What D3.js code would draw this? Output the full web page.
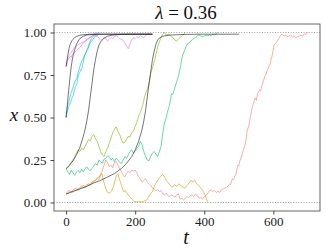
<!DOCTYPE html>
<html>
<head>
<meta charset="utf-8"/>
<script src="https://cdn.jsdelivr.net/npm/d3@7"></script>
<style>
body{margin:0;background:#fff;}
svg text{font-family:"Liberation Serif","DejaVu Serif",serif;}
</style>
</head>
<body>
<script>
var width=325, height=250;
var margin={left:54,right:5,top:24,bottom:39};

// axis ticks
var xTicks=[0,200,400,600];
var yTicks=[0,0.25,0.5,0.75,1];
var refLines=[0,1];

// simulated paths, [t, x]
var seriesColors=["#F8766D","#CD9600","#7CAE00","#00BE67","#00BFC4","#00A9FF","#C77CFF","#FF61CC"];

var red=[[0,.05],[5,.065],[10,.07],[15,.06],[20,.075],[25,.08],[30,.085],[35,.078],[40,.09],[45,.095],[50,.1],[55,.092],[60,.105],[65,.11],[70,.1],[75,.115],[80,.12],[85,.13],[90,.14],[95,.135],[100,.16],[105,.19],[110,.22],[115,.25],[120,.235],[125,.21],[130,.22],[135,.205],[140,.235],[145,.24],[150,.22],[155,.2],[160,.18],[165,.165],[170,.15],[175,.17],[180,.185],[185,.175],[190,.19],[195,.185],[200,.19],[205,.175],[210,.15],[215,.14],[220,.12],[225,.13],[230,.14],[235,.12],[240,.11],[245,.1],[250,.085],[255,.08],[260,.07],[265,.075],[270,.065],[275,.07],[280,.05],[285,.045],[290,.055],[295,.04],[300,.035],[305,.045],[310,.04],[315,.03],[320,.045],[325,.05],[330,.02],[335,.025],[340,.015],[345,.025],[350,.035],[355,.03],[360,.04],[365,.045],[370,.035],[375,.05],[380,.04],[385,.025],[390,.03],[395,.02],[400,.035],[405,.04],[410,.055],[415,.07],[420,.075],[425,.065],[430,.07],[435,.06],[440,.065],[445,.06],[450,.075],[455,.08],[460,.085],[465,.09],[470,.1],[473,.11],[476,.105],[479,.125],[482,.14],[485,.135],[488,.155],[491,.16],[494,.19],[497,.22],[500,.215],[503,.245],[506,.26],[509,.28],[512,.3],[515,.32],[518,.34],[521,.37],[524,.42],[527,.44],[530,.46],[533,.5],[536,.53],[539,.56],[542,.58],[545,.6],[548,.615],[551,.6],[554,.64],[557,.65],[560,.66],[563,.655],[566,.68],[569,.7],[572,.72],[575,.74],[578,.75],[581,.77],[584,.785],[587,.8],[590,.81],[593,.84],[596,.86],[599,.89],[602,.925],[605,.935],[608,.94],[611,.95],[614,.955],[617,.97],[620,.98],[624,.99],[628,.985],[632,.98],[636,.985],[640,.975],[645,.98],[650,.985],[655,.975],[660,.98],[665,.97],[670,.975],[675,.98],[680,.985],[685,.98],[690,.99],[695,.99],[700,1]];

var gold=[[0,.05],[6,.055],[12,.065],[18,.06],[24,.07],[30,.075],[36,.072],[42,.085],[48,.09],[54,.085],[60,.1],[66,.105],[72,.115],[78,.125],[84,.13],[90,.145],[96,.15],[100,.165],[104,.17],[108,.13],[112,.1],[116,.075],[120,.06],[126,.055],[132,.07],[138,.1],[142,.13],[146,.16],[150,.17],[154,.14],[158,.115],[162,.09],[166,.065],[172,.07],[178,.05],[184,.035],[190,.02],[196,.008],[202,.004],[210,.006],[218,.003],[226,.008],[232,.012],[238,.03],[244,.05],[250,.065],[256,.1],[262,.12],[268,.14],[274,.155],[280,.165],[285,.15],[290,.13],[296,.115],[302,.1],[308,.09],[314,.105],[320,.095],[326,.11],[332,.1],[338,.09],[344,.085],[350,.1],[356,.115],[362,.13],[366,.12],[372,.13],[378,.11],[384,.1],[390,.085],[396,.07],[402,.045],[406,.025],[410,0]];

var yellowgreen=[[0,.2],[5,.205],[10,.22],[15,.235],[20,.25],[25,.27],[30,.29],[35,.31],[40,.3],[45,.32],[50,.31],[55,.33],[60,.35],[65,.37],[70,.36],[75,.39],[80,.4],[85,.375],[90,.36],[95,.33],[100,.3],[105,.28],[110,.27],[115,.3],[120,.32],[125,.35],[130,.38],[135,.41],[140,.43],[145,.445],[150,.42],[155,.4],[160,.37],[165,.35],[170,.355],[175,.37],[180,.39],[185,.385],[190,.41],[195,.42],[200,.45],[203,.46],[206,.48],[209,.5],[212,.52],[215,.53],[218,.55],[221,.565],[224,.59],[227,.62],[230,.64],[233,.655],[236,.67],[239,.69],[242,.72],[245,.76],[248,.78],[251,.8],[254,.82],[257,.84],[260,.87],[263,.895],[266,.92],[269,.94],[272,.955],[275,.97],[278,.985],[281,.99],[285,1],[290,.985],[295,.99],[300,.985],[305,.975],[310,.97],[315,.955],[320,.95],[325,.96],[330,.97],[335,.98],[340,.99],[345,1]];

var green=[[0,.2],[5,.18],[10,.165],[15,.19],[20,.175],[25,.16],[30,.18],[35,.19],[40,.175],[45,.195],[50,.18],[55,.2],[60,.21],[65,.195],[70,.185],[75,.2],[80,.215],[85,.23],[90,.22],[95,.25],[100,.24],[105,.23],[110,.255],[115,.26],[120,.275],[125,.27],[130,.25],[135,.26],[140,.24],[145,.26],[150,.25],[155,.235],[160,.23],[165,.25],[170,.27],[175,.26],[180,.28],[185,.3],[190,.31],[195,.29],[200,.3],[205,.32],[210,.33],[215,.36],[220,.34],[225,.3],[230,.27],[235,.25],[240,.245],[245,.27],[250,.29],[255,.3],[260,.285],[265,.27],[270,.3],[275,.33],[278,.38],[281,.42],[284,.46],[287,.48],[290,.5],[293,.53],[296,.55],[299,.57],[302,.6],[305,.64],[308,.635],[311,.65],[314,.67],[317,.69],[320,.71],[323,.73],[326,.75],[329,.78],[332,.81],[335,.845],[338,.87],[341,.885],[344,.9],[347,.915],[350,.93],[354,.935],[358,.945],[362,.95],[366,.96],[370,.965],[375,.97],[380,.98],[385,.985],[390,.98],[395,.975],[400,.98],[405,.985],[410,.98],[415,.985],[420,.98],[425,.99],[430,.985],[435,.995],[440,1]];

var cyan=[[0,.5],[3,.53],[6,.55],[9,.57],[12,.58],[15,.6],[18,.62],[21,.63],[24,.66],[27,.68],[30,.69],[33,.72],[36,.75],[39,.76],[42,.78],[45,.78],[48,.81],[51,.84],[54,.87],[57,.88],[60,.895],[63,.9],[66,.92],[69,.935],[72,.945],[75,.95],[78,.96],[81,.97],[84,.975],[87,.985],[90,.98],[94,.99],[98,1]];

var blue=[[0,.5],[2,.54],[4,.57],[7,.58],[10,.61],[13,.64],[16,.65],[19,.67],[22,.69],[25,.71],[28,.72],[31,.73],[34,.76],[37,.78],[40,.8],[43,.82],[46,.835],[49,.845],[52,.86],[55,.87],[58,.885],[61,.9],[64,.915],[67,.935],[70,.95],[73,.965],[76,.97],[79,.98],[82,.99],[85,1]];

var purple=[[0,.8],[3,.83],[6,.855],[9,.865],[12,.875],[16,.885],[20,.9],[24,.91],[28,.92],[32,.925],[36,.93],[40,.935],[45,.94],[50,.945],[55,.95],[60,.96],[65,.965],[70,.975],[75,.98],[80,.985],[85,.98],[90,.975],[95,.97],[100,.955],[105,.96],[110,.97],[115,.965],[120,.95],[125,.96],[130,.97],[135,.965],[140,.975],[145,.98],[150,.975],[155,.965],[160,.96],[165,.955],[170,.94],[175,.92],[180,.905],[185,.935],[190,.955],[195,.97],[200,.965],[205,.975],[210,.97],[215,.98],[220,.975],[225,.97],[230,.98],[235,.99],[240,1]];

var magenta=[[0,.8],[3,.83],[6,.845],[9,.85],[12,.86],[15,.855],[18,.87],[21,.875],[24,.88],[27,.89],[30,.895],[33,.9],[36,.905],[39,.91],[42,.915],[45,.925],[48,.935],[51,.94],[54,.945],[57,.95],[60,.955],[63,.96],[66,.965],[70,.97],[74,.975],[78,.985],[82,.98],[86,.99],[90,.995],[95,1]];

// deterministic curves
var detA=[[0,.8],[3,.84],[6,.88],[9,.91],[12,.93],[16,.95],[20,.96],[25,.97],[30,.977],[40,.984],[50,.987],[70,.99],[250,.99]];
var detB=[[0,.5],[3,.56],[6,.63],[9,.69],[12,.75],[15,.8],[18,.84],[21,.87],[25,.9],[30,.93],[35,.95],[40,.965],[50,.978],[60,.985],[80,.989],[100,.99],[250,.99]];
var detC=[[0,.2],[10,.22],[20,.245],[30,.28],[40,.325],[50,.39],[55,.43],[60,.48],[65,.54],[70,.62],[75,.7],[80,.78],[85,.84],[90,.89],[95,.925],[100,.945],[110,.967],[120,.978],[135,.985],[160,.989],[200,.99],[250,.99]];
var detD=[[0,.05],[20,.065],[40,.08],[60,.095],[80,.115],[100,.13],[120,.15],[140,.17],[160,.2],[175,.23],[190,.27],[200,.31],[210,.36],[220,.43],[225,.48],[230,.54],[235,.62],[240,.7],[245,.77],[250,.84],[255,.89],[260,.93],[265,.955],[270,.968],[280,.978],[300,.985],[350,.989],[400,.99],[500,.99]];

var paths=[red,gold,yellowgreen,green,cyan,blue,purple,magenta];
var curves=[detA,detB,detC,detD];

var font="'Liberation Serif','DejaVu Serif',serif";

var svg=d3.select("body").append("svg").attr("width",width).attr("height",height)
  .attr("font-family",font);

var x=d3.scaleLinear().domain([-35,735]).range([margin.left,width-margin.right]);
var y=d3.scaleLinear().domain([-0.05,1.05]).range([height-margin.bottom,margin.top]);

var line=d3.line().x(function(d){return x(d[0]);}).y(function(d){return y(d[1]);});

// dotted reference lines
svg.selectAll("line.ref").data(refLines).enter().append("line")
  .attr("class","ref")
  .attr("x1",x.range()[0]).attr("x2",x.range()[1])
  .attr("y1",function(d){return y(d);}).attr("y2",function(d){return y(d);})
  .attr("stroke","#8c8c8c").attr("stroke-width",0.8).attr("stroke-dasharray","1,1.6");

svg.selectAll("path.sim").data(paths).enter().append("path")
  .attr("class","sim")
  .attr("d",line)
  .attr("fill","none")
  .attr("stroke",function(d,i){return seriesColors[i];})
  .attr("stroke-opacity",0.85)
  .attr("stroke-width",0.7)
  .attr("stroke-linejoin","round");

svg.selectAll("path.det").data(curves).enter().append("path")
  .attr("class","det")
  .attr("d",line)
  .attr("fill","none")
  .attr("stroke","#1a1a1a")
  .attr("stroke-width",0.6);

// panel border
svg.append("rect")
  .attr("x",x.range()[0]).attr("y",y.range()[1])
  .attr("width",x.range()[1]-x.range()[0]).attr("height",y.range()[0]-y.range()[1])
  .attr("fill","none").attr("stroke","#555").attr("stroke-width",0.9);

var xAxis=svg.append("g").attr("transform","translate(0,"+y.range()[0]+")")
  .call(d3.axisBottom(x).tickValues(xTicks).tickSize(3.5).tickPadding(2.5).tickFormat(d3.format("d")));
var yAxis=svg.append("g").attr("transform","translate("+x.range()[0]+",0)")
  .call(d3.axisLeft(y).tickValues(yTicks).tickSize(3.5).tickPadding(4).tickFormat(d3.format(".2f")));

[xAxis,yAxis].forEach(function(g){
  g.attr("font-family",font);
  g.select(".domain").remove();
  g.selectAll(".tick line").attr("stroke","#333").attr("stroke-width",0.9);
  g.selectAll(".tick text").attr("fill","#1a1a1a").attr("font-size","13px");
});

// labels
svg.append("text").attr("x",186).attr("y",19).attr("text-anchor","middle")
  .attr("font-size","19px").attr("fill","#111")
  .html('<tspan font-style="italic">λ</tspan> = 0.36');

svg.append("text").attr("x",14).attr("y",121).attr("text-anchor","middle")
  .attr("font-size","19px").attr("font-style","italic").attr("fill","#111").text("x");

svg.append("text").attr("x",186).attr("y",244).attr("text-anchor","middle")
  .attr("font-size","20px").attr("font-style","italic").attr("fill","#111").text("t");
</script>
</body>
</html>
